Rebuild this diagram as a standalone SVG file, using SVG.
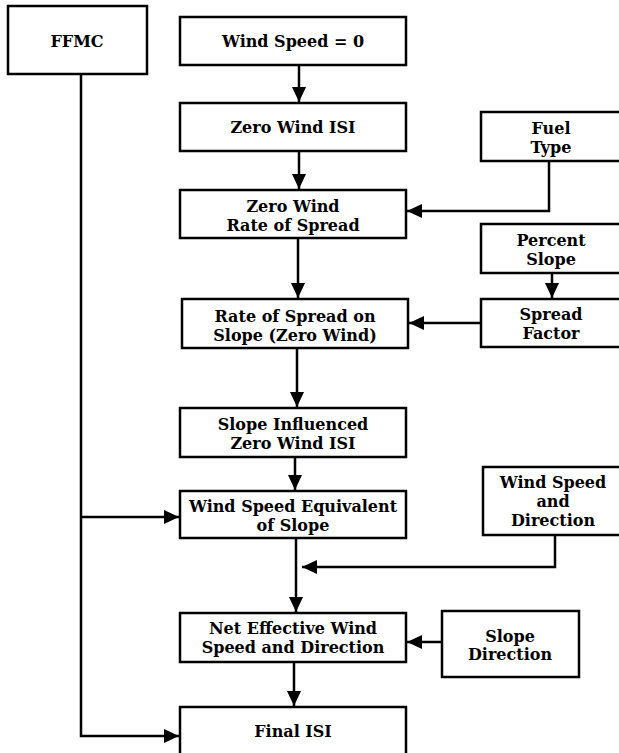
<svg xmlns="http://www.w3.org/2000/svg" width="619" height="753" viewBox="0 0 619 753">
<style>
.box{fill:#fff;stroke:#000;stroke-width:2.5}
.ln{fill:none;stroke:#000;stroke-width:2.5}
text{font-family:"DejaVu Serif","Liberation Serif",serif;font-weight:bold;font-size:16px;text-anchor:middle;fill:#000}
</style>
<defs>
<marker id="ah" markerUnits="userSpaceOnUse" markerWidth="16" markerHeight="14" refX="15" refY="7" orient="auto">
<path d="M0,0 L15,7 L0,14 z" fill="#000"/>
</marker>
</defs>
<rect width="619" height="753" fill="#fff"/>
<g id="connectors">
<path class="ln" d="M81,74 V736 H179" marker-end="url(#ah)"/>
<path class="ln" d="M81,517 H179" marker-end="url(#ah)"/>
<path class="ln" d="M299,65 V102" marker-end="url(#ah)"/>
<path class="ln" d="M299,151 V189" marker-end="url(#ah)"/>
<path class="ln" d="M298,238 V298" marker-end="url(#ah)"/>
<path class="ln" d="M297,348 V407" marker-end="url(#ah)"/>
<path class="ln" d="M295,457 V490" marker-end="url(#ah)"/>
<path class="ln" d="M296,538 V612" marker-end="url(#ah)"/>
<path class="ln" d="M294,662 V706" marker-end="url(#ah)"/>
<path class="ln" d="M549,161 V211 H407" marker-end="url(#ah)"/>
<path class="ln" d="M552,273 V298" marker-end="url(#ah)"/>
<path class="ln" d="M481,323 H409" marker-end="url(#ah)"/>
<path class="ln" d="M555,535 V567 H302" marker-end="url(#ah)"/>
<path class="ln" d="M442,642 H407" marker-end="url(#ah)"/>
</g>
<g id="ffmc"><rect class="box" x="8" y="6" width="139" height="68"/><text x="77" y="47">FFMC</text></g>
<g id="ws0"><rect class="box" x="180" y="17" width="226" height="48"/><text x="293" y="47">Wind Speed = 0</text></g>
<g id="zwisi"><rect class="box" x="180" y="103" width="226" height="48"/><text x="293" y="133">Zero Wind ISI</text></g>
<g id="zwros"><rect class="box" x="180" y="190" width="226" height="48"/><text x="293" y="212">Zero Wind</text><text x="293" y="231">Rate of Spread</text></g>
<g id="rosslope"><rect class="box" x="182" y="299" width="226" height="49"/><text x="295" y="322">Rate of Spread on</text><text x="295" y="341">Slope (Zero Wind)</text></g>
<g id="slopeisi"><rect class="box" x="180" y="408" width="226" height="49"/><text x="293" y="430">Slope Influenced</text><text x="293" y="449">Zero Wind ISI</text></g>
<g id="wse"><rect class="box" x="180" y="491" width="226" height="47"/><text x="293" y="512">Wind Speed Equivalent</text><text x="293" y="531">of Slope</text></g>
<g id="netwind"><rect class="box" x="180" y="613" width="226" height="49"/><text x="293" y="634">Net Effective Wind</text><text x="293" y="653">Speed and Direction</text></g>
<g id="finalisi"><rect class="box" x="180" y="707" width="226" height="70"/><text x="293" y="737">Final ISI</text></g>
<g id="fueltype"><rect class="box" x="481" y="112" width="150" height="49"/><text x="551" y="134">Fuel</text><text x="551" y="153">Type</text></g>
<g id="pctslope"><rect class="box" x="481" y="224" width="150" height="49"/><text x="551" y="246">Percent</text><text x="551" y="265">Slope</text></g>
<g id="spreadfactor"><rect class="box" x="481" y="299" width="150" height="48"/><text x="551" y="320">Spread</text><text x="551" y="339">Factor</text></g>
<g id="wsdir"><rect class="box" x="483" y="467" width="150" height="68"/><text x="553" y="488">Wind Speed</text><text x="553" y="507">and</text><text x="553" y="526">Direction</text></g>
<g id="slopedir"><rect class="box" x="442" y="611" width="137" height="66"/><text x="510" y="642">Slope</text><text x="510" y="660">Direction</text></g>
</svg>
